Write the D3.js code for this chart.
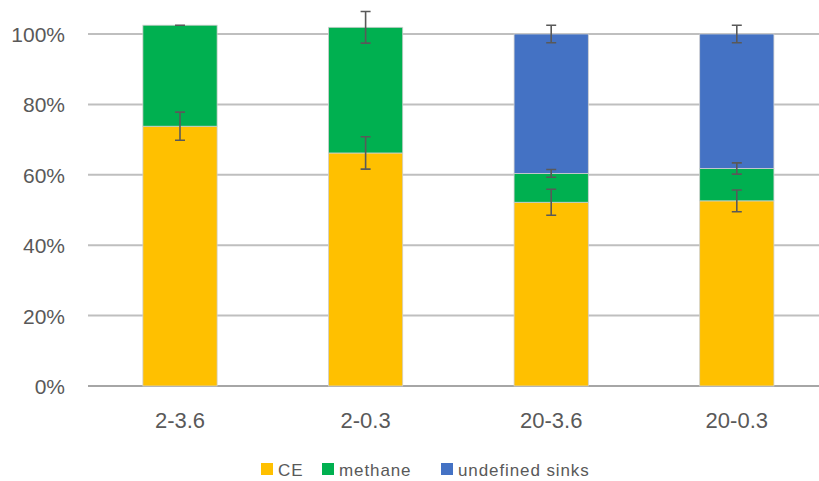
<!DOCTYPE html>
<html>
<head>
<meta charset="utf-8">
<script src="https://cdn.jsdelivr.net/npm/d3@7"></script>
<style>
  html, body { margin: 0; padding: 0; background: #fff; }
  svg { display: block; }
</style>
</head>
<body>
<svg id="chart" width="819" height="481"></svg>
<script>
// Treatments on the x axis
const categories = ["2-3.6", "2-0.3", "20-3.6", "20-0.3"];

// Share of each sink per treatment (fraction of 1)
const seriesNames = ["CE", "methane", "undefined sinks"];
const ceValues        = [0.738, 0.662, 0.522, 0.526];
const methaneValues   = [0.287, 0.357, 0.082, 0.092];
const undefinedValues = [0.000, 0.000, 0.396, 0.382];

// Error half-widths, drawn at the top of each stacked segment
const ceErrors        = [0.040, 0.046, 0.037, 0.031];
const methaneErrors   = [0.000, 0.045, 0.011, 0.016];
const undefinedErrors = [null, null, 0.025, 0.025];

const yTicks = [0, 0.2, 0.4, 0.6, 0.8, 1.0];
const colors = ["#FFC000", "#00B050", "#4472C4"];

const svg = d3.select("#chart");
const W = 819, H = 481;

const x = d3.scaleBand()
  .domain(categories)
  .range([87.2, 829.6])
  .paddingInner(0.6)
  .paddingOuter(0.3);

const y = d3.scaleLinear().domain([0, 1]).range([386, 34]);

const textColor = "#595959";
const font = "'Liberation Sans', Arial, Helvetica, sans-serif";

// Horizontal gridlines
svg.append("g")
  .selectAll("line")
  .data(yTicks)
  .join("line")
  .attr("x1", 88)
  .attr("x2", W)
  .attr("y1", d => y(d))
  .attr("y2", d => y(d))
  .attr("stroke", d => d === 0 ? "#a6a6a6" : "#bfbfbf")
  .attr("stroke-width", 2);

// Y axis labels
const yAxis = d3.axisLeft(y).tickValues(yTicks).tickFormat(d3.format(".0%")).tickSize(0).tickPadding(0);
const yg = svg.append("g").attr("transform", "translate(65,0)").call(yAxis);
yg.select(".domain").remove();
yg.selectAll("text")
  .attr("fill", textColor)
  .attr("font-family", font)
  .attr("font-size", 21)
  .attr("dy", "0.36em");

// X axis labels
const xAxis = d3.axisBottom(x).tickSize(0).tickPadding(0);
const xg = svg.append("g").attr("transform", "translate(0,412)").call(xAxis);
xg.select(".domain").remove();
xg.selectAll("text")
  .attr("fill", textColor)
  .attr("font-family", font)
  .attr("font-size", 22)
  .attr("dy", "0.71em");

// Stacked bars
const rows = categories.map((c, i) => ({
  cat: c,
  "CE": ceValues[i],
  "methane": methaneValues[i],
  "undefined sinks": undefinedValues[i]
}));
const stacked = d3.stack().keys(seriesNames)(rows);
const errs = [ceErrors, methaneErrors, undefinedErrors];

const layers = svg.append("g")
  .selectAll("g")
  .data(stacked)
  .join("g")
  .attr("fill", (d, i) => colors[i]);

layers.selectAll("rect")
  .data(d => d.filter(p => p[1] - p[0] > 0))
  .join("rect")
  .attr("x", d => x(d.data.cat))
  .attr("width", x.bandwidth())
  .attr("y", d => y(d[1]))
  .attr("height", d => y(d[0]) - y(d[1]))
  .attr("stroke", "#cfcfcf")
  .attr("stroke-width", 0.8);

// Error bars
const errData = [];
stacked.forEach((layer, li) => {
  layer.forEach((p, ci) => {
    const e = errs[li][ci];
    if (e === null || p[1] - p[0] <= 0) return;
    errData.push({ cat: p.data.cat, top: p[1], e });
  });
});

const eg = svg.append("g")
  .attr("stroke", "#595959")
  .attr("stroke-width", 1.6)
  .attr("fill", "none");

const cx = d => x(d.cat) + x.bandwidth() / 2;
eg.selectAll("path")
  .data(errData)
  .join("path")
  .attr("d", d => {
    const c = cx(d), y1 = y(d.top + d.e), y0 = y(d.top - d.e);
    return `M${c - 5},${y1}H${c + 5}M${c},${y1}V${y0}M${c - 5},${y0}H${c + 5}`;
  });

// Legend
const legendItems = [
  { name: "CE", x: 261 },
  { name: "methane", x: 322 },
  { name: "undefined sinks", x: 441 }
];
const lg = svg.append("g")
  .selectAll("g")
  .data(legendItems)
  .join("g")
  .attr("transform", d => `translate(${d.x},463)`);
lg.append("rect")
  .attr("width", 12)
  .attr("height", 12)
  .attr("fill", (d, i) => colors[i]);
lg.append("text")
  .attr("x", 17)
  .attr("y", 12.5)
  .attr("fill", textColor)
  .attr("font-family", font)
  .attr("font-size", 17)
  .attr("letter-spacing", "0.9px")
  .text(d => d.name);
</script>
</body>
</html>
